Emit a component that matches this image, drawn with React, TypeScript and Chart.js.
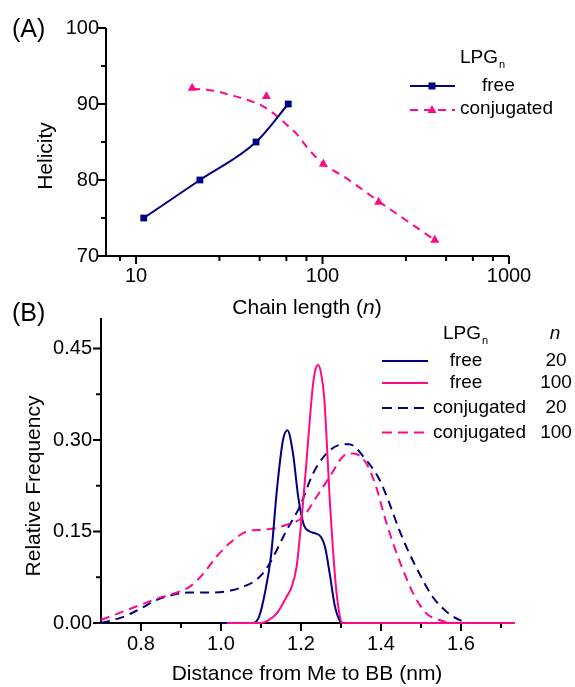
import React, { useEffect, useRef } from 'react';
import { Chart, registerables } from 'chart.js';

Chart.register(...registerables);

const FONT = '"Liberation Sans", Arial, Helvetica, sans-serif';
const NAVY = '#000080';
const PINK = '#ff0a84';

// ---------- Panel (A): helicity vs chain length ----------
const freeChain = [11, 22, 44, 65.5];
const freeHelicity = [75, 80, 85, 90];
const conjChain = [20, 50, 101, 200, 400];
const conjHelicity = [92.1, 91.0, 82.1, 77.1, 72.1];
const conjFitChain = [20, 26, 33, 41, 48, 57, 64, 73, 82, 93, 105, 129, 200, 400];
const conjFitHelicity = [92.0, 91.75, 91.1, 90.4, 89.7, 88.4, 87.3, 86.0, 84.4, 82.9, 81.8, 80.5, 77.2, 72.1];
const chainTicks = [10, 100, 1000];
const chainMinorTicks = [8.2, 28, 46, 64, 82, 280, 460, 640, 820];
const helicityTicks = [70, 80, 90, 100];
const helicityMinorTicks = [75, 85, 95];

// ---------- Panel (B): distance distributions ----------
const free20X = [1.0, 1.08, 1.095, 1.11, 1.125, 1.14, 1.155, 1.166, 1.18, 1.193, 1.207, 1.222, 1.236, 1.25, 1.26, 1.272, 1.284, 1.296, 1.305, 1.735];
const free20Y = [0, 0, 0.01, 0.05, 0.11, 0.22, 0.3, 0.316, 0.278, 0.207, 0.161, 0.15, 0.147, 0.141, 0.125, 0.08, 0.03, 0.005, 0, 0];
const free100X = [1.015, 1.1, 1.12, 1.14, 1.164, 1.176, 1.189, 1.197, 1.205, 1.214, 1.222, 1.229, 1.236, 1.243, 1.25, 1.258, 1.265, 1.272, 1.28, 1.288, 1.296, 1.303, 1.735];
const free100Y = [0, 0, 0.005, 0.016, 0.043, 0.058, 0.092, 0.141, 0.196, 0.267, 0.333, 0.385, 0.415, 0.423, 0.41, 0.37, 0.29, 0.2, 0.12, 0.055, 0.015, 0, 0];
const conj20X = [0.7, 0.756, 0.8, 0.84, 0.885, 0.92, 0.98, 1.03, 1.065, 1.08, 1.1, 1.122, 1.164, 1.197, 1.23, 1.264, 1.297, 1.32, 1.363, 1.397, 1.421, 1.446, 1.471, 1.496, 1.529, 1.563, 1.596, 1.62, 1.735];
const conj20Y = [0, 0.01, 0.024, 0.038, 0.047, 0.05, 0.05, 0.054, 0.062, 0.067, 0.078, 0.098, 0.152, 0.191, 0.245, 0.278, 0.292, 0.293, 0.267, 0.234, 0.196, 0.152, 0.114, 0.081, 0.043, 0.019, 0.005, 0, 0];
const conj100X = [0.7, 0.756, 0.8, 0.84, 0.885, 0.923, 0.956, 0.989, 1.022, 1.064, 1.1, 1.13, 1.164, 1.205, 1.239, 1.272, 1.305, 1.33, 1.363, 1.388, 1.409, 1.43, 1.455, 1.48, 1.513, 1.546, 1.58, 1.735];
const conj100Y = [0.005, 0.019, 0.03, 0.04, 0.049, 0.06, 0.081, 0.109, 0.131, 0.15, 0.153, 0.155, 0.161, 0.174, 0.207, 0.24, 0.273, 0.278, 0.262, 0.223, 0.174, 0.131, 0.087, 0.049, 0.016, 0.005, 0, 0];
const distTicks = [0.8, 1.0, 1.2, 1.4, 1.6];
const distMinorTicks = [0.9, 1.1, 1.3, 1.5, 1.7];
const freqTicks = [0, 0.15, 0.3, 0.45];
const freqMinorTicks = [0.075, 0.225, 0.375];

const zip = (xs: number[], ys: number[]) => xs.map((x, i) => ({ x, y: ys[i] }));

const MAJOR = 7;
const MINOR = 4;

function framePlugin(cfg: {
  xMajor: number[]; xMinor: number[]; yMajor: number[]; yMinor: number[];
  text: (ctx: CanvasRenderingContext2D) => void;
}) {
  return {
    id: 'frame',
    beforeDatasetsDraw(chart: any) {
      const ctx: CanvasRenderingContext2D = chart.ctx;
      const { left, right, top, bottom } = chart.chartArea;
      const xs = chart.scales.x;
      const ys = chart.scales.y;
      ctx.save();
      ctx.strokeStyle = '#000';
      ctx.lineWidth = 2;
      ctx.beginPath();
      ctx.moveTo(left, top);
      ctx.lineTo(left, bottom + 1);
      ctx.moveTo(left - 1, bottom);
      ctx.lineTo(right, bottom);
      ctx.stroke();
      const tx = (vals: number[], len: number) => {
        for (const v of vals) {
          const p = xs.getPixelForValue(v);
          ctx.beginPath();
          ctx.moveTo(p, bottom);
          ctx.lineTo(p, bottom + 1 + len);
          ctx.stroke();
        }
      };
      const ty = (vals: number[], len: number) => {
        for (const v of vals) {
          const p = ys.getPixelForValue(v);
          ctx.beginPath();
          ctx.moveTo(left, p);
          ctx.lineTo(left - 1 - len, p);
          ctx.stroke();
        }
      };
      tx(cfg.xMajor, MAJOR);
      tx(cfg.xMinor, MINOR);
      ty(cfg.yMajor, MAJOR);
      ty(cfg.yMinor, MINOR);
      ctx.restore();
    },
    afterDraw(chart: any) {
      const ctx: CanvasRenderingContext2D = chart.ctx;
      ctx.save();
      ctx.fillStyle = '#000';
      cfg.text(ctx);
      ctx.restore();
    },
  };
}

function font(size: number, italic = false) {
  return `${italic ? 'italic ' : ''}${size}px ${FONT}`;
}

function drawMixedCentered(ctx: CanvasRenderingContext2D, parts: [string, boolean][], cx: number, y: number, size: number) {
  let total = 0;
  for (const [t, it] of parts) { ctx.font = font(size, it); total += ctx.measureText(t).width; }
  let x = cx - total / 2;
  ctx.textAlign = 'left';
  ctx.textBaseline = 'alphabetic';
  for (const [t, it] of parts) {
    ctx.font = font(size, it);
    ctx.fillText(t, x, y);
    x += ctx.measureText(t).width;
  }
}

function drawLPG(ctx: CanvasRenderingContext2D, x: number, baseline: number) {
  ctx.textAlign = 'left';
  ctx.textBaseline = 'alphabetic';
  ctx.font = font(19);
  ctx.fillText('LPG', x, baseline);
  const w = ctx.measureText('LPG').width;
  ctx.font = font(11);
  ctx.fillText('n', x + w + 1, baseline + 5);
}

function drawRotated(ctx: CanvasRenderingContext2D, text: string, x: number, y: number, size: number) {
  ctx.save();
  ctx.translate(x, y);
  ctx.rotate(-Math.PI / 2);
  ctx.font = font(size);
  ctx.textAlign = 'center';
  ctx.textBaseline = 'alphabetic';
  ctx.fillText(text, 0, 0);
  ctx.restore();
}

const tickFont = { family: FONT, size: 20 };

function PanelA() {
  const ref = useRef<HTMLCanvasElement>(null);
  useEffect(() => {
    const text = (ctx: CanvasRenderingContext2D) => {
      ctx.font = font(25);
      ctx.textAlign = 'left';
      ctx.textBaseline = 'alphabetic';
      ctx.fillText('(A)', 12, 37);
      drawRotated(ctx, 'Helicity', 52, 156, 21);
      drawMixedCentered(ctx, [['Chain length (', false], ['n', true], [')', false]], 307, 314, 21);
      // legend
      drawLPG(ctx, 460, 63);
      ctx.lineWidth = 2;
      ctx.strokeStyle = NAVY;
      ctx.setLineDash([]);
      ctx.beginPath(); ctx.moveTo(410, 86); ctx.lineTo(455, 86); ctx.stroke();
      ctx.fillStyle = NAVY;
      ctx.fillRect(428.5, 82.5, 7, 7);
      ctx.strokeStyle = PINK;
      ctx.setLineDash([8, 6]);
      ctx.beginPath(); ctx.moveTo(410, 110); ctx.lineTo(455, 110); ctx.stroke();
      ctx.setLineDash([]);
      ctx.fillStyle = PINK;
      ctx.beginPath();
      ctx.moveTo(432, 105); ctx.lineTo(436.5, 113); ctx.lineTo(427.5, 113); ctx.closePath(); ctx.fill();
      ctx.fillStyle = '#000';
      ctx.font = font(19);
      ctx.textBaseline = 'middle';
      ctx.textAlign = 'left';
      ctx.fillText('free', 482, 86);
      ctx.fillText('conjugated', 460, 109);
    };
    const chart = new Chart(ref.current as HTMLCanvasElement, {
      type: 'line',
      data: {
        datasets: [
          {
            data: zip(freeChain, freeHelicity),
            borderColor: NAVY, backgroundColor: NAVY, borderWidth: 2,
            pointStyle: 'rect', pointRadius: 4.8, pointBorderWidth: 0,
            pointBackgroundColor: NAVY, cubicInterpolationMode: 'monotone', clip: false,
          },
          {
            data: zip(conjFitChain, conjFitHelicity),
            borderColor: PINK, borderWidth: 2, borderDash: [8, 6], pointRadius: 0,
            cubicInterpolationMode: 'monotone', clip: false,
          },
          {
            data: zip(conjChain, conjHelicity),
            showLine: false, pointStyle: 'triangle', pointRadius: 5.2, pointBorderWidth: 0,
            pointBackgroundColor: PINK, borderColor: PINK, clip: false,
          },
        ],
      } as any,
      options: {
        responsive: false,
        maintainAspectRatio: false,
        animation: false,
        events: [],
        layout: { padding: { top: 28, right: 66, left: 0, bottom: 0 } },
        plugins: { legend: { display: false }, tooltip: { enabled: false } },
        scales: {
          x: {
            type: 'logarithmic', min: 6.9, max: 1000,
            afterFit: (s: any) => { s.height = 64; },
            afterBuildTicks: (s: any) => { s.ticks = chainTicks.map((v) => ({ value: v })); },
            ticks: { padding: 8, font: tickFont, color: '#000', autoSkip: false, maxRotation: 0, callback: (v: any) => String(v) },
            grid: { display: false, drawTicks: false },
            border: { display: false },
          },
          y: {
            type: 'linear', min: 70, max: 100,
            afterFit: (s: any) => { s.width = 106; },
            afterBuildTicks: (s: any) => { s.ticks = helicityTicks.map((v) => ({ value: v })); },
            ticks: { padding: 7, font: tickFont, color: '#000', callback: (v: any) => String(v) },
            grid: { display: false, drawTicks: false },
            border: { display: false },
          },
        },
      } as any,
      plugins: [framePlugin({ xMajor: chainTicks, xMinor: chainMinorTicks, yMajor: helicityTicks, yMinor: helicityMinorTicks, text })],
    });
    return () => chart.destroy();
  }, []);
  return (
    <canvas ref={ref} width={575} height={320}
      style={{ position: 'absolute', left: 0, top: 0, width: 575, height: 320 }} />
  );
}

function PanelB() {
  const ref = useRef<HTMLCanvasElement>(null);
  useEffect(() => {
    const text = (ctx: CanvasRenderingContext2D) => {
      ctx.font = font(25);
      ctx.textAlign = 'left';
      ctx.textBaseline = 'alphabetic';
      ctx.fillText('(B)', 12, 31);
      drawRotated(ctx, 'Relative Frequency', 40, 196, 21);
      drawMixedCentered(ctx, [['Distance from Me to BB (nm)', false]], 307, 390, 21);
      // legend
      drawLPG(ctx, 443, 49);
      ctx.font = font(19, true);
      ctx.textAlign = 'center';
      ctx.fillText('n', 555, 49);
      const rows: [string, string, string, boolean, number][] = [
        ['free', '20', NAVY, false, 71],
        ['free', '100', PINK, false, 93],
        ['conjugated', '20', NAVY, true, 118],
        ['conjugated', '100', PINK, true, 142.5],
      ];
      for (const [label, n, color, dashed, y] of rows) {
        ctx.strokeStyle = color;
        ctx.lineWidth = 2;
        ctx.setLineDash(dashed ? [10, 6] : []);
        ctx.beginPath(); ctx.moveTo(382, y); ctx.lineTo(428, y); ctx.stroke();
        ctx.setLineDash([]);
        ctx.fillStyle = '#000';
        ctx.font = font(19);
        ctx.textBaseline = 'middle';
        if (dashed) { ctx.textAlign = 'left'; ctx.fillText(label, 433, y); }
        else { ctx.textAlign = 'center'; ctx.fillText(label, 466, y); }
        ctx.textAlign = 'center';
        ctx.fillText(n, 556, y);
      }
    };
    const line = (xs: number[], ys: number[], color: string, dashed: boolean) => ({
      data: zip(xs, ys),
      borderColor: color, borderWidth: 2, borderDash: dashed ? [9, 6] : [],
      pointRadius: 0, cubicInterpolationMode: 'monotone', clip: false,
    });
    const chart = new Chart(ref.current as HTMLCanvasElement, {
      type: 'line',
      data: {
        datasets: [
          line(free100X, free100Y, PINK, false),
          line(free20X, free20Y, NAVY, false),
          line(conj100X, conj100Y, PINK, true),
          line(conj20X, conj20Y, NAVY, true),
        ],
      } as any,
      options: {
        responsive: false,
        maintainAspectRatio: false,
        animation: false,
        events: [],
        layout: { padding: { top: 28, right: 60, left: 0, bottom: 0 } },
        plugins: { legend: { display: false }, tooltip: { enabled: false } },
        scales: {
          x: {
            type: 'linear', min: 0.7, max: 1.735,
            afterFit: (s: any) => { s.height = 64; },
            afterBuildTicks: (s: any) => { s.ticks = distTicks.map((v) => ({ value: v })); },
            ticks: { padding: 9, font: tickFont, color: '#000', autoSkip: false, maxRotation: 0, callback: (v: any) => Number(v).toFixed(1) },
            grid: { display: false, drawTicks: false },
            border: { display: false },
          },
          y: {
            type: 'linear', min: 0, max: 0.5,
            afterFit: (s: any) => { s.width = 101; },
            afterBuildTicks: (s: any) => { s.ticks = freqTicks.map((v) => ({ value: v })); },
            ticks: { padding: 9, font: tickFont, color: '#000', callback: (v: any) => Number(v).toFixed(2) },
            grid: { display: false, drawTicks: false },
            border: { display: false },
          },
        },
      } as any,
      plugins: [framePlugin({ xMajor: distTicks, xMinor: distMinorTicks, yMajor: freqTicks, yMinor: freqMinorTicks, text })],
    });
    return () => chart.destroy();
  }, []);
  return (
    <canvas ref={ref} width={575} height={397}
      style={{ position: 'absolute', left: 0, top: 290, width: 575, height: 397 }} />
  );
}

export default function App() {
  return (
    <div style={{ position: 'absolute', left: 0, top: 0, width: 575, height: 687, background: '#fff', overflow: 'hidden' }}>
      <PanelA />
      <PanelB />
    </div>
  );
}
